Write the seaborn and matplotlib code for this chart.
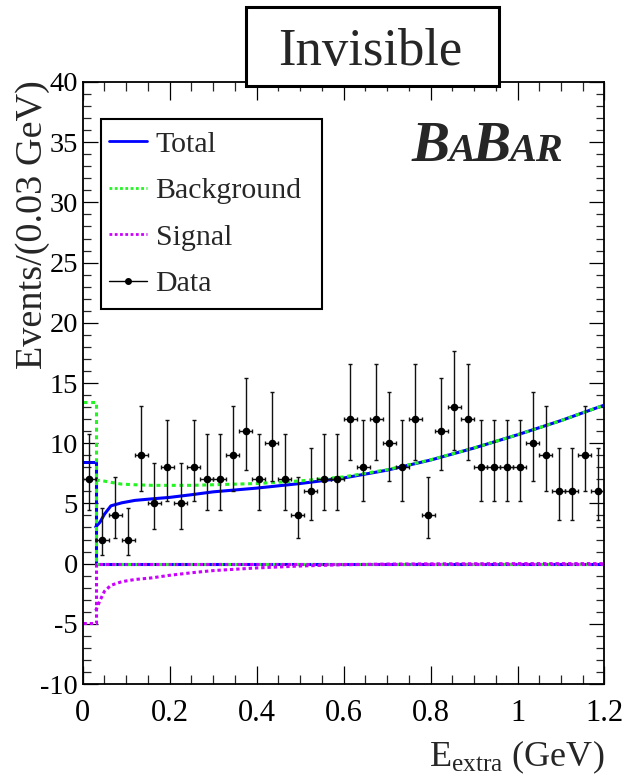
import numpy as np
import pandas as pd
import matplotlib
matplotlib.use("Agg")
import matplotlib.pyplot as plt
import seaborn as sns
from matplotlib.lines import Line2D
from matplotlib.patches import Rectangle
from matplotlib.ticker import MultipleLocator, FuncFormatter
from matplotlib.transforms import offset_copy

# ---------------- data ----------------
e_extra = [0.015, 0.045, 0.075, 0.105, 0.135, 0.165, 0.195, 0.225, 0.255, 0.285,
           0.315, 0.345, 0.375, 0.405, 0.435, 0.465, 0.495, 0.525, 0.555, 0.585,
           0.615, 0.645, 0.675, 0.705, 0.735, 0.765, 0.795, 0.825, 0.855, 0.885,
           0.915, 0.945, 0.975, 1.005, 1.035, 1.065, 1.095, 1.125, 1.155, 1.185]
counts = [7, 2, 4, 2, 9, 5, 8, 5, 8, 7,
          7, 9, 11, 7, 10, 7, 4, 6, 7, 7,
          12, 8, 12, 10, 8, 12, 4, 11, 13, 12,
          8, 8, 8, 8, 10, 9, 6, 6, 9, 6]
half_bin = 0.015
# asymmetric Poisson errors (low, high) as drawn
poisson_err = {2: (1.29, 2.64), 4: (1.91, 3.16), 5: (2.16, 3.38), 6: (2.38, 3.58),
               7: (2.58, 3.77), 8: (2.77, 3.95), 9: (2.94, 4.11), 10: (3.11, 4.27),
               11: (3.26, 4.41), 12: (3.41, 4.56), 13: (3.56, 4.69)}

curve_x = [0.03, 0.04, 0.05, 0.065, 0.09, 0.12, 0.16, 0.2, 0.25, 0.3,
           0.4, 0.5, 0.6, 0.7, 0.8, 0.9, 1.0, 1.1, 1.2]
total = [3.05, 3.45, 4.1, 4.8, 5.05, 5.25, 5.38, 5.5, 5.72, 5.96,
         6.27, 6.65, 7.11, 7.76, 8.6, 9.6, 10.7, 11.88, 13.17]
background = [6.95, 6.9, 6.85, 6.75, 6.6, 6.55, 6.5, 6.5, 6.5, 6.55,
              6.65, 6.87, 7.2, 7.8, 8.62, 9.61, 10.7, 11.88, 13.17]
signal = [-3.9, -3.05, -2.3, -1.8, -1.5, -1.32, -1.18, -0.97, -0.76, -0.58,
          -0.36, -0.2, -0.09, -0.04, -0.02, -0.01, 0.0, 0.0, 0.0]
# first-bin plateau levels, then drop to zero line
plateau_x = [0.0, 0.03, 0.03, 1.2]
plateau_total = [8.45, 8.45, 0.0, 0.0]
plateau_background = [13.4, 13.4, 0.0, 0.0]
plateau_signal = [-4.95, -4.95, 0.0, 0.0]

x_ticks = [0, 0.2, 0.4, 0.6, 0.8, 1.0, 1.2]
y_ticks = [-10, -5, 0, 5, 10, 15, 20, 25, 30, 35, 40]

# ---------------- style ----------------
sns.set_theme(style="ticks")
plt.rcParams["font.family"] = ["Liberation Serif", "DejaVu Serif"]
plt.rcParams["mathtext.fontset"] = "custom"
plt.rcParams["mathtext.rm"] = "Liberation Serif"
plt.rcParams["mathtext.it"] = "Liberation Serif:italic"
plt.rcParams["axes.unicode_minus"] = False

C_TOT = "#0000ff"
C_BKG = "#22f522"
C_SIG = "#cc00ff"
LW = 2.2
DOT_BKG = (0, (1.3, 1.2))
DOT_SIG = (0, (1.1, 0.95))

fig = plt.figure(figsize=(6.23, 7.75), dpi=100)
ax = fig.add_axes([0.1327, 0.1174, 0.9703 - 0.1327, 0.8942 - 0.1174])
ax.set_facecolor("white")

df_curve = pd.DataFrame({"x": curve_x, "total": total,
                         "background": background, "signal": signal})
df_plat = pd.DataFrame({"x": plateau_x, "total": plateau_total,
                        "background": plateau_background, "signal": plateau_signal})

for col, c, ls in [("total", C_TOT, "-"), ("background", C_BKG, DOT_BKG),
                   ("signal", C_SIG, DOT_SIG)]:
    sns.lineplot(data=df_plat, x="x", y=col, sort=False, estimator=None, ax=ax,
                 color=c, lw=LW, linestyle=ls, legend=False)
    sns.lineplot(data=df_curve, x="x", y=col, sort=False, estimator=None, ax=ax,
                 color=c, lw=LW, linestyle=ls, legend=False)

err_lo = [poisson_err[n][0] for n in counts]
err_hi = [poisson_err[n][1] for n in counts]
ax.errorbar(e_extra, counts, xerr=half_bin, yerr=[err_lo, err_hi], fmt="none",
            ecolor="#111111", elinewidth=1.0, capsize=1.7, capthick=1.0, zorder=5)
df_data = pd.DataFrame({"x": e_extra, "n": counts})
sns.scatterplot(data=df_data, x="x", y="n", ax=ax, color="black", s=30,
                edgecolor="black", linewidth=0, zorder=6, legend=False)

ax.set_xlim(0, 1.2)
ax.set_ylim(-10, 40)
ax.set_xticks(x_ticks)
ax.set_yticks(y_ticks)
ax.xaxis.set_minor_locator(MultipleLocator(0.05))
ax.yaxis.set_minor_locator(MultipleLocator(1))
ax.xaxis.set_major_formatter(FuncFormatter(lambda v, p: "%g" % v))
ax.yaxis.set_major_formatter(FuncFormatter(lambda v, p: "%g" % v))
ax.tick_params(axis="x", which="major", direction="in", length=13, width=0.9,
               top=True, labelsize=22, pad=11, colors="black")
ax.tick_params(axis="x", which="minor", direction="in", length=6.5, width=0.9, top=True)
ax.tick_params(axis="y", which="major", direction="in", length=11, width=0.9,
               right=True, labelsize=20.5, pad=3.5, colors="black")
ax.tick_params(axis="y", which="minor", direction="in", length=5.5, width=0.9, right=True)
for s in ax.spines.values():
    s.set_linewidth(1.3)
    s.set_color("black")
ax.set_xlabel("")
ax.set_ylabel("")

# axis titles
fig.text(0.9695, 0.0107, r"E$_{\rm extra}$ (GeV)", ha="right", va="baseline",
         fontsize=26)
fig.text(0.053, 1 - 80 / 775, "Events/(0.03 GeV)", rotation=90, ha="center",
         va="top", fontsize=27.5)

# legend
handles = [Line2D([], [], color=C_TOT, lw=2.0),
           Line2D([], [], color=C_BKG, lw=2.0, linestyle=(0, (1.0, 0.9))),
           Line2D([], [], color=C_SIG, lw=2.0, linestyle=(0, (1.0, 0.9))),
           Line2D([], [], color="black", lw=1.0, marker="o", ms=4)]
labels = ["Total", "Background", "Signal", "Data"]
ax.legend(handles, labels, loc="upper left", bbox_to_anchor=(0.051, 0.919),
          frameon=False, fontsize=21.5, handlelength=1.27, handletextpad=0.28,
          labelspacing=0.66, borderpad=0, borderaxespad=0)
ax.add_patch(Rectangle((0.0345, 0.623), 0.424, 0.315, transform=ax.transAxes,
                       fill=False, edgecolor="black", lw=1.5, zorder=7))

# title box
fig.add_artist(Rectangle((0.3944, 0.889), 0.4066, 0.1016, transform=fig.transFigure,
                         facecolor="white", edgecolor="black", lw=2.2, zorder=10))
fig.text(0.5947, 0.9161, "Invisible", ha="center", va="baseline", fontsize=38,
         zorder=11)

# BABAR logo
renderer = fig.canvas.get_renderer()
trans = fig.transFigure
for s, fs in [("B", 41), ("A", 29), ("B", 41), ("AR", 29)]:
    t = fig.text(412 / 623, 1 - 161 / 775, s, transform=trans, fontsize=fs,
                 fontweight="bold", style="italic", va="baseline", ha="left")
    ext = t.get_window_extent(renderer)
    trans = offset_copy(t.get_transform(), fig=fig, x=ext.width - 2.0, units="dots")

fig.savefig("out.png", dpi=100, facecolor="white")
